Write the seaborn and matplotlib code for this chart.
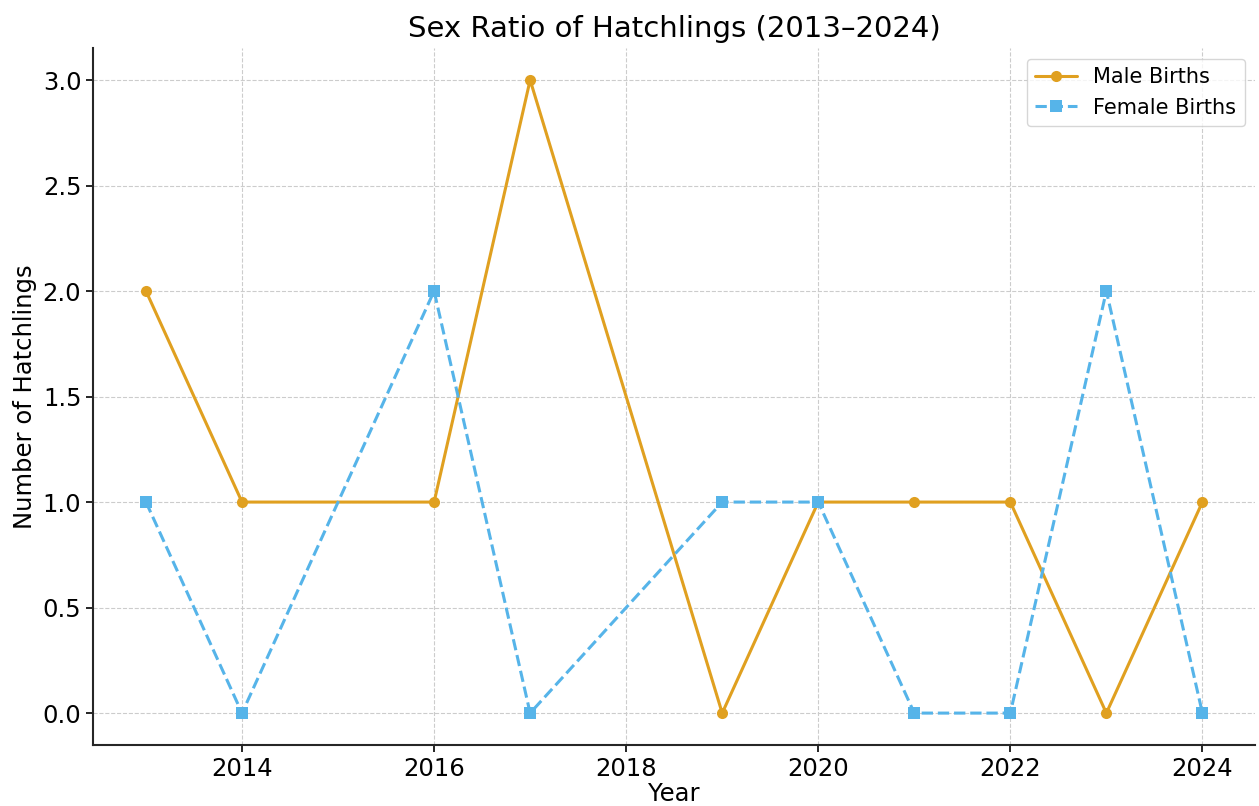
import numpy as np
import pandas as pd
import matplotlib
matplotlib.use('Agg')
import matplotlib.pyplot as plt
import seaborn as sns

# Hatchling counts per year (2015 and 2018 have no records)
years = [2013, 2014, 2016, 2017, 2019, 2020, 2021, 2022, 2023, 2024]
male_births = [2, 1, 1, 3, 0, 1, 1, 1, 0, 1]
female_births = [1, 0, 2, 0, 1, 1, 0, 0, 2, 0]

df = pd.DataFrame({'Year': years, 'Male Births': male_births, 'Female Births': female_births})

sns.set_style('ticks')
plt.rcParams['font.family'] = ['DejaVu Sans']
plt.rcParams['text.color'] = 'black'
plt.rcParams['axes.labelcolor'] = 'black'
plt.rcParams['xtick.color'] = 'black'
plt.rcParams['ytick.color'] = 'black'

fig, ax = plt.subplots(figsize=(12.59, 8.06), dpi=100)

sns.lineplot(data=df, x='Year', y='Male Births', ax=ax, color='#E0A020',
             marker='o', markersize=8, linewidth=2.2, markeredgewidth=0,
             label='Male Births')
sns.lineplot(data=df, x='Year', y='Female Births', ax=ax, color='#56B4E9',
             marker='s', markersize=8, linewidth=2.2, linestyle='--',
             markeredgewidth=0, label='Female Births')

ax.set_title('Sex Ratio of Hatchlings (2013\u20132024)', fontsize=21, pad=8)
ax.set_xlabel('Year', fontsize=17.5, labelpad=1)
ax.set_ylabel('Number of Hatchlings', fontsize=17.5)
ax.tick_params(axis='both', labelsize=17.5, length=5, width=1.2)
ax.grid(True, linestyle='--', color='#cccccc', linewidth=0.8)
sns.despine(ax=ax)
ax.spines['left'].set_linewidth(1.5)
ax.spines['bottom'].set_linewidth(1.5)

ax.legend(loc='upper right', fontsize=15, frameon=True)

plt.subplots_adjust(left=0.074, right=0.997, top=0.94, bottom=0.076)
plt.savefig('out.png', dpi=100)
